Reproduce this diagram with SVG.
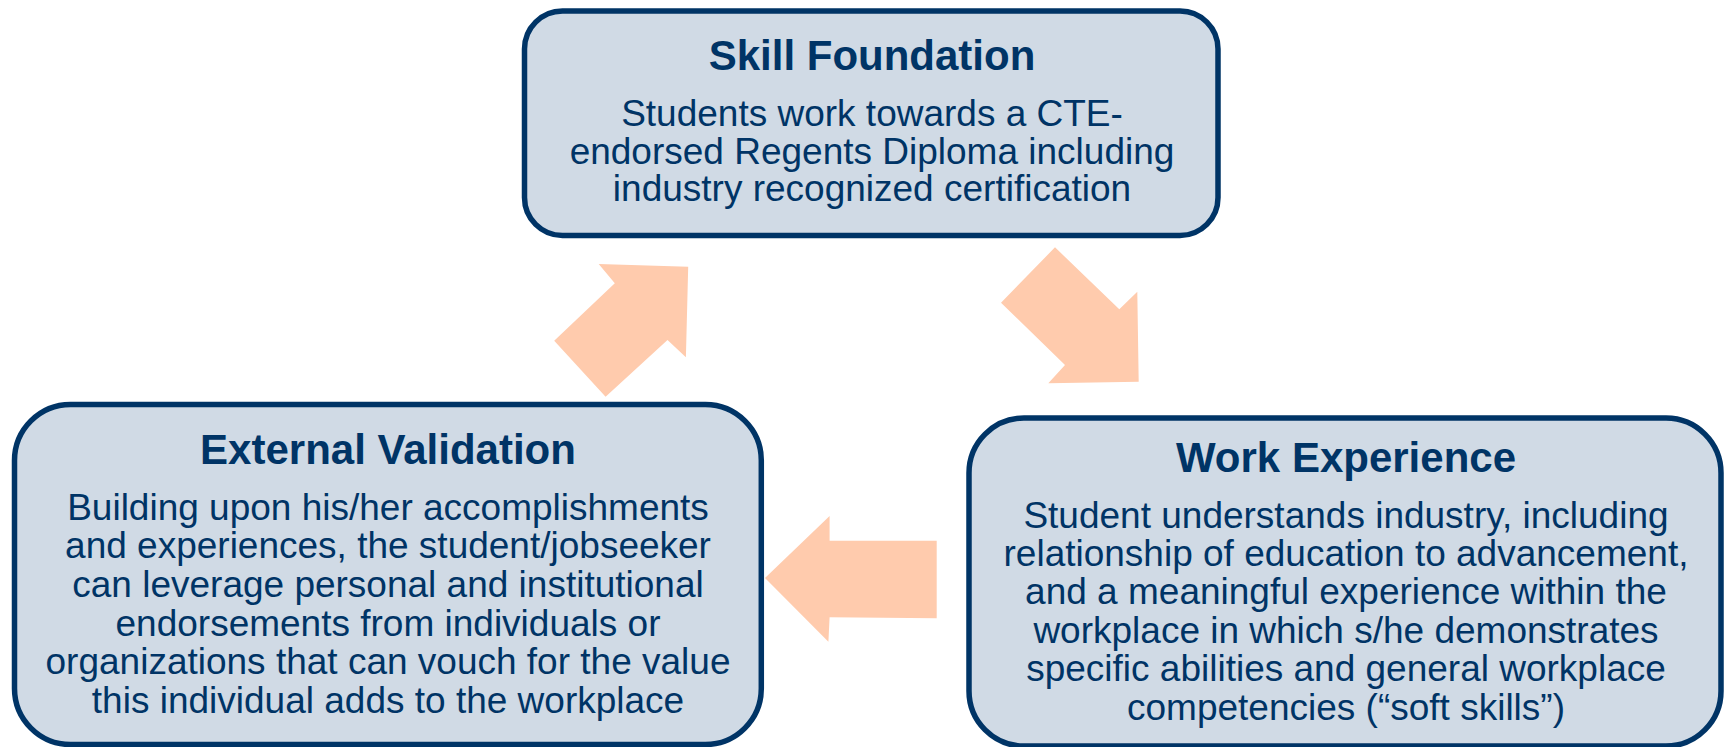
<svg xmlns="http://www.w3.org/2000/svg" width="1727" height="747" viewBox="0 0 1727 747">
<style>
.box{fill:#D0DAE5;stroke:#003466;stroke-width:5.5}
.t{font-family:"Liberation Sans",Arial,sans-serif;fill:#003466;text-anchor:middle}
.h{font-size:42px;font-weight:bold}
.b{font-size:37px}
.arr{fill:#FFCBAD}
</style>
<rect width="1727" height="747" fill="#FFFFFF"/>
<g id="connectors">
<polygon class="arr" points="554.2,340.7 614.8,283.3 598.7,264 688.2,266.7 685.9,357.3 667.5,340 605.6,396.7"/>
<polygon class="arr" points="1001,302.7 1055,247.3 1119.3,309.3 1137.3,291.7 1138.7,381.7 1048.3,383.3 1065,365"/>
<polygon class="arr" points="765,578 829.6,516 829.6,540.7 936.7,540.7 936.7,618.3 829.6,617.3 828.4,641.7"/>
</g>
<g id="skill-foundation">
<rect class="box" x="524.5" y="11" width="693.5" height="224.5" rx="38" ry="38"/>
<text class="t h" x="872" y="70">Skill Foundation</text>
<text class="t b" x="872" y="126">Students work towards a CTE-</text>
<text class="t b" x="872" y="163.5">endorsed Regents Diploma including</text>
<text class="t b" x="872" y="201">industry recognized certification</text>
</g>
<g id="external-validation">
<rect class="box" x="14.5" y="404.5" width="746.8" height="340" rx="56" ry="56"/>
<text class="t h" x="388" y="463.5">External Validation</text>
<text class="t b" x="388" y="519.5">Building upon his/her accomplishments</text>
<text class="t b" x="388" y="558.2">and experiences, the student/jobseeker</text>
<text class="t b" x="388" y="596.9">can leverage personal and institutional</text>
<text class="t b" x="388" y="635.6">endorsements from individuals or</text>
<text class="t b" x="388" y="674.3">organizations that can vouch for the value</text>
<text class="t b" x="388" y="713">this individual adds to the workplace</text>
</g>
<g id="work-experience">
<rect class="box" x="969" y="418" width="752" height="328" rx="55" ry="55"/>
<text class="t h" x="1346" y="471.5">Work Experience</text>
<text class="t b" x="1346" y="527.5">Student understands industry, including</text>
<text class="t b" x="1346" y="565.9">relationship of education to advancement,</text>
<text class="t b" x="1346" y="604.3">and a meaningful experience within the</text>
<text class="t b" x="1346" y="642.7">workplace in which s/he demonstrates</text>
<text class="t b" x="1346" y="681.1">specific abilities and general workplace</text>
<text class="t b" x="1346" y="719.5">competencies (“soft skills”)</text>
</g>
</svg>
